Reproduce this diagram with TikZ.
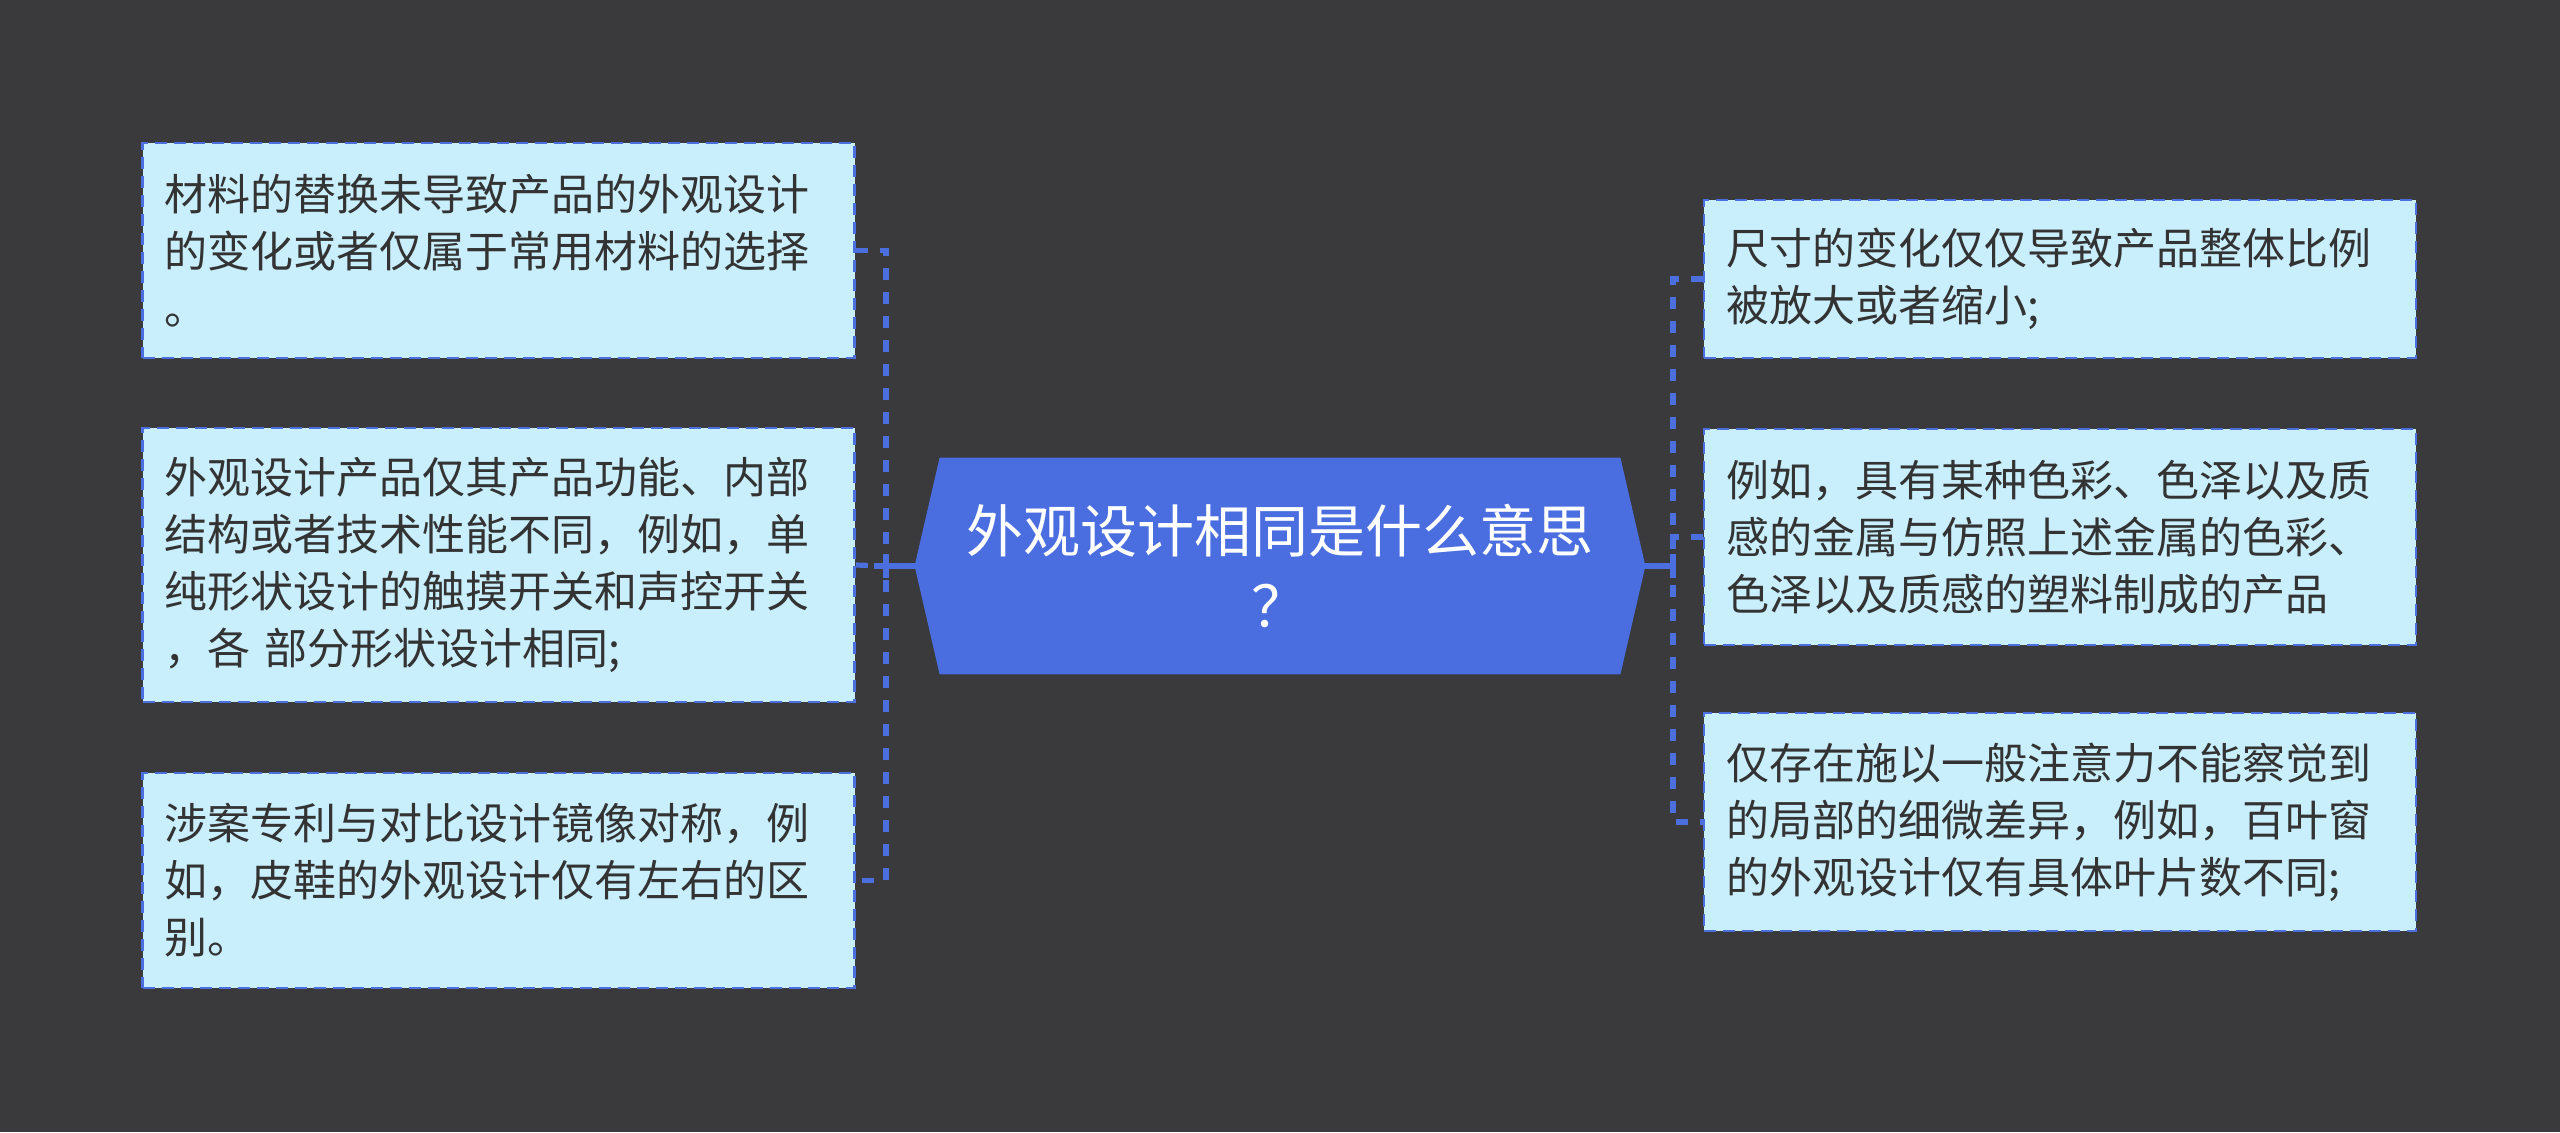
\documentclass[tikz,border=0pt]{standalone}
\usepackage{fontspec}
\setmainfont{Noto Sans CJK SC}
\definecolor{bgc}{HTML}{3A393C}
\definecolor{linec}{HTML}{4B6FDF}
\definecolor{leaffill}{HTML}{C9EFFD}
\definecolor{rootfill}{HTML}{4A6EE0}
\definecolor{txt}{HTML}{333333}
\tikzset{
  leafbox/.style={draw=linec, line width=1.4pt, dash pattern=on 6pt off 3.5pt, fill=leaffill,
    text=txt, font=\fontsize{21.5pt}{28.5pt}\selectfont, align=left, text width=334pt,
    inner xsep=11pt, inner ysep=0pt, anchor=center},
  conn/.style={draw=linec, line width=2.6pt, dash pattern=on 6pt off 6pt},
  connsolid/.style={draw=linec, line width=2.6pt},
}
\begin{document}
\begin{tikzpicture}[x=0.5pt,y=-0.5pt]
\fill[bgc] (0,0) rectangle (2560,1132);
\useasboundingbox (0,0) rectangle (2560,1132);

% root
\node[minimum width=365pt, minimum height=108pt, inner sep=0pt] (root) at (1280,566) {};
\fill[rootfill] (root.west) -- ([xshift=12.5pt]root.north west) -- ([xshift=-12.5pt]root.north east)
  -- (root.east) -- ([xshift=-12.5pt]root.south east) -- ([xshift=12.5pt]root.south west) -- cycle;
\node[text=white, font=\fontsize{28.5pt}{37.5pt}\selectfont, align=center] (roottext) at (root.center)
  {外观设计相同是什么意思\\？};

% left leaves
\node[leafbox, minimum height=107.5pt] (L1) at (498.5,250.5)
  {材料的替换未导致产品的外观设计\\的变化或者仅属于常用材料的选择\\。};
\node[leafbox, minimum height=137pt] (L2) at (498.5,565)
  {外观设计产品仅其产品功能、内部\\结构或者技术性能不同，例如，单\\纯形状设计的触摸开关和声控开关\\，各 部分形状设计相同;};
\node[leafbox, minimum height=107.5pt] (L3) at (498.5,880.5)
  {涉案专利与对比设计镜像对称，例\\如，皮鞋的外观设计仅有左右的区\\别。};

% right leaves
\node[leafbox, minimum height=79pt] (R1) at (2060,279)
  {尺寸的变化仅仅导致产品整体比例\\被放大或者缩小;};
\node[leafbox, minimum height=108pt] (R2) at (2060,537)
  {例如，具有某种色彩、色泽以及质\\感的金属与仿照上述金属的色彩、\\色泽以及质感的塑料制成的产品};
\node[leafbox, minimum height=109pt] (R3) at (2060,822)
  {仅存在施以一般注意力不能察觉到\\的局部的细微差异，例如，百叶窗\\的外观设计仅有具体叶片数不同;};

% junctions
\coordinate (jl) at (886,566);
\coordinate (jr) at (1673,566);

\draw[conn] (L1.east) -| (jl) |- (L3.east);
\draw[conn] (L2.east) -- (jl);
\draw[connsolid] ([xshift=-6pt]jl) -- (root.west);
\draw[connsolid] ([yshift=-6pt]jl) -- ([yshift=6pt]jl);

\draw[conn] (R1.west) -| (jr) |- (R3.west);
\draw[conn] (R2.west) -| (jr);
\draw[connsolid] (jr) -- (root.east);
\draw[connsolid] ([yshift=-6pt]jr) -- ([yshift=6pt]jr);
\end{tikzpicture}
\end{document}
